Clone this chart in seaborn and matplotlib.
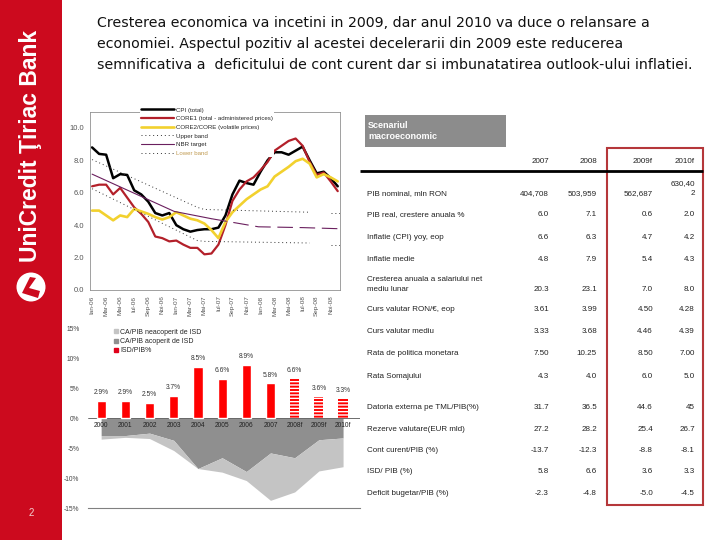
import numpy as np
import pandas as pd
import matplotlib
matplotlib.use("Agg")
import matplotlib.pyplot as plt
from matplotlib.patches import Rectangle, Circle, Polygon
from matplotlib.lines import Line2D
import seaborn as sns

# ---- inflatie lunara, Ian-06 .. Dec-08 (%)
months = list(range(36))
cpi = [8.8, 8.4, 8.35, 6.9, 7.15, 7.1, 6.15, 5.9, 5.45, 4.75, 4.6, 4.75,
       4.0, 3.75, 3.6, 3.7, 3.75, 3.75, 3.85, 4.6, 5.9, 6.75, 6.6, 6.5,
       7.3, 8.0, 8.5, 8.5, 8.35, 8.6, 8.85, 8.0, 7.2, 7.3, 6.9, 6.4]
core1 = [6.4, 6.5, 6.5, 5.9, 6.3, 5.7, 5.1, 4.7, 4.2, 3.3, 3.2, 3.0,
         3.05, 2.8, 2.6, 2.6, 2.2, 2.25, 2.8, 4.0, 5.5, 6.2, 6.7, 6.95,
         7.4, 7.9, 8.6, 8.9, 9.2, 9.35, 8.9, 7.9, 7.1, 7.25, 6.7, 6.1]
core2 = [4.9, 4.9, 4.6, 4.3, 4.6, 4.5, 5.0, 4.85, 4.7, 4.5, 4.35, 4.5,
         4.8, 4.6, 4.4, 4.3, 4.1, 3.7, 3.2, 4.2, 4.8, 5.2, 5.6, 5.9,
         6.2, 6.4, 7.0, 7.3, 7.6, 7.95, 8.1, 7.8, 6.95, 7.15, 6.95, 6.7]
upper_m1 = [0, 15, 16, 31]
upper_v1 = [8.05, 5.1, 4.97, 4.8]
upper_m2 = [34, 35.3]
upper_v2 = [4.76, 4.76]
lower_m1 = [0, 15, 16, 31]
lower_v1 = [6.25, 3.05, 3.0, 2.9]
lower_m2 = [34, 35.3]
lower_v2 = [2.8, 2.8]
target_m1 = [0, 11.7, 17]
target_v1 = [7.15, 4.85, 4.4]
target_m2 = [17, 23.7, 30, 35.3]
target_v2 = [4.4, 3.9, 3.85, 3.78]
month_labels = ["Ian-06", "Mar-06", "Mai-06", "Iul-06", "Sep-06", "Noi-06",
                "Ian-07", "Mar-07", "Mai-07", "Iul-07", "Sep-07", "Noi-07",
                "Ian-08", "Mar-08", "Mai-08", "Iul-08", "Sep-08", "Noi-08"]

# ---- ISD si cont curent (% PIB)
years = ["2000", "2001", "2002", "2003", "2004", "2005", "2006", "2007",
         "2008f", "2009f", "2010f"]
isd = [2.9, 2.9, 2.5, 3.7, 8.5, 6.6, 8.9, 5.8, 6.6, 3.6, 3.3]
ca_acoperit = [-2.9, -2.9, -2.5, -3.7, -8.4, -6.6, -8.9, -5.8, -6.6, -3.6, -3.3]
ca_total = [-3.5, -3.2, -3.4, -5.4, -8.4, -9.0, -10.4, -13.7, -12.3, -8.8, -8.1]

# ---- scenariul macroeconomic
row_labels = ["PIB nominal, mln RON", "PIB real, crestere anuala %",
              "Inflatie (CPI) yoy, eop", "Inflatie medie",
              "Cresterea anuala a salariului net\nmediu lunar",
              "Curs valutar RON/€, eop", "Curs valutar mediu",
              "Rata de politica monetara", "Rata Somajului",
              "Datoria externa pe TML/PIB(%)", "Rezerve valutare(EUR mld)",
              "Cont curent/PIB (%)", "ISD/ PIB (%)", "Deficit bugetar/PIB (%)"]
col_heads = ["2007", "2008", "2009f", "2010f"]
col_2007 = ["404,708", "6.0", "6.6", "4.8", "20.3", "3.61", "3.33", "7.50",
            "4.3", "31.7", "27.2", "-13.7", "5.8", "-2.3"]
col_2008 = ["503,959", "7.1", "6.3", "7.9", "23.1", "3.99", "3.68", "10.25",
            "4.0", "36.5", "28.2", "-12.3", "6.6", "-4.8"]
col_2009f = ["562,687", "0.6", "4.7", "5.4", "7.0", "4.50", "4.46", "8.50",
             "6.0", "44.6", "25.4", "-8.8", "3.6", "-5.0"]
col_2010f = ["630,40\n2", "2.0", "4.2", "4.3", "8.0", "4.28", "4.39", "7.00",
             "5.0", "45", "26.7", "-8.1", "3.3", "-4.5"]

title_lines = ["Cresterea economica va incetini in 2009, dar anul 2010 va duce o relansare a",
               "economiei. Aspectul pozitiv al acestei decelerarii din 2009 este reducerea",
               "semnificativa a  deficitului de cont curent dar si imbunatatirea outlook-ului inflatiei."]

sns.set_style("white")
plt.rcParams['font.family'] = ['Liberation Sans', 'DejaVu Sans']

fig = plt.figure(figsize=(7.2, 5.4), dpi=100)

# background axes in pixel coordinates
bg = fig.add_axes([0, 0, 1, 1])
bg.set_xlim(0, 720)
bg.set_ylim(540, 0)
bg.axis("off")
bg.add_patch(Rectangle((0, 0), 62, 540, color="#cc0a1e", lw=0))
bg.text(31, 146, "UniCredit Ţiriac Bank", rotation=90, color="white",
        fontsize=16.5, fontweight="bold", ha="center", va="center")
bg.add_patch(Circle((31, 287), 14.5, color="white", lw=0))
bg.add_patch(Polygon([(22, 293), (38, 298), (40, 291), (29, 288), (36, 278), (30, 277)],
                     closed=True, color="#cc0a1e", lw=0))
bg.text(31, 513, "2", color="#f3d0d0", fontsize=7, ha="center", va="center")

for i, line in enumerate(title_lines):
    bg.text(97, 23 + 21 * i, line, fontsize=10.15, color="#111111", va="center", ha="left",
            family=["DejaVu Sans"])

# table
bg.add_patch(Rectangle((365, 115), 141, 32, color="#8c8c8c", lw=0))
bg.text(368, 131, "Scenariul\nmacroeconomic", color="white", fontsize=6.5,
        fontweight="bold", va="center", ha="left", linespacing=1.3)
col_x = [549, 597, 653, 695]
for x, h in zip(col_x, col_heads):
    bg.text(x, 165, h, fontsize=5.8, ha="right", va="bottom", color="#222222")
bg.plot([360, 703], [171, 171], color="black", lw=2, solid_capstyle="butt")
bg.add_patch(Rectangle((607, 148), 96, 357, fill=False, edgecolor="#b5373a", lw=1.5))
row_y = [197, 218, 241, 263, 293, 313, 335, 357, 380, 411, 433, 454, 475, 497]
cols = [col_2007, col_2008, col_2009f, col_2010f]
for r, (lab, y) in enumerate(zip(row_labels, row_y)):
    bg.text(367, y, lab, fontsize=5.8, ha="left", va="bottom", color="#222222",
            linespacing=1.6)
    for x, c in zip(col_x, cols):
        bg.text(x, y, c[r], fontsize=5.8, ha="right", va="bottom", color="#222222",
                linespacing=1.6)

# ---- line chart
ax1 = fig.add_axes([0.125, 0.463, 0.347, 0.330])
sns.lineplot(x=months, y=cpi, ax=ax1, color="black", lw=1.8, label="CPI (total)")
sns.lineplot(x=months, y=core1, ax=ax1, color="#b3202a", lw=1.6,
             label="CORE1 (total - administered prices)")
sns.lineplot(x=months, y=core2, ax=ax1, color="#f2d12e", lw=1.9,
             label="CORE2/CORE (volatile prices)")
sns.lineplot(x=upper_m1, y=upper_v1, ax=ax1, color="#333333", lw=0.7,
             linestyle=(0, (1, 3)), label="Upper band")
sns.lineplot(x=upper_m2, y=upper_v2, ax=ax1, color="#333333", lw=0.7,
             linestyle=(0, (1, 3)))
sns.lineplot(x=target_m1, y=target_v1, ax=ax1, color="#6a1f5e", lw=0.8, label="NBR target")
sns.lineplot(x=target_m2, y=target_v2, ax=ax1, color="#6a1f5e", lw=0.8,
             linestyle=(0, (14, 6)))
sns.lineplot(x=lower_m1, y=lower_v1, ax=ax1, color="#333333", lw=0.7,
             linestyle=(0, (1, 3)), label="Lower band")
sns.lineplot(x=lower_m2, y=lower_v2, ax=ax1, color="#333333", lw=0.7,
             linestyle=(0, (1, 3)))
ax1.set_xlim(-0.3, 35.3)
ax1.set_ylim(0, 11)
ax1.set_yticks([0, 2, 4, 6, 8, 10])
ax1.set_yticklabels(["0.0", "2.0", "4.0", "6.0", "8.0", "10.0"], fontsize=5.5, color="#333333")
ax1.set_xticks(range(0, 36, 2))
ax1.set_xticklabels(month_labels, rotation=90, fontsize=4.6, color="#333333")
ax1.tick_params(axis="both", length=2, width=0.5, pad=2, colors="#555555")
ax1.set_xlabel("")
ax1.set_ylabel("")
for s in ax1.spines.values():
    s.set_color("#909090")
    s.set_linewidth(0.6)
leg = ax1.legend(loc="upper left", bbox_to_anchor=(0.2, 1.03), fontsize=4.4,
                 frameon=True, facecolor="white", edgecolor="none", framealpha=1,
                 handlelength=5.5, handletextpad=0.2, labelspacing=0.55,
                 borderpad=0.15, borderaxespad=0)
leg.get_texts()[5].set_color("#c09a50")

# ---- ISD / cont curent chart
ax2 = fig.add_axes([0.122, 0.059, 0.378, 0.35])
xpos = np.arange(len(years))
ax2.fill_between(xpos, 0, ca_acoperit, color="#8f8f8f", lw=0, zorder=1)
ax2.fill_between(xpos, ca_acoperit, ca_total, color="#c4c4c4", lw=0, zorder=1)
sns.barplot(x=years, y=isd, ax=ax2, color="#ff0000", width=0.38, saturation=1,
            native_scale=False, zorder=3)
for i, p in enumerate(ax2.patches):
    if i >= 8:
        p.set_hatch("-----")
        p.set_edgecolor("white")
        p.set_linewidth(0)
for i, v in enumerate(isd):
    ax2.text(i, v + 0.8, f"{v:.1f}%", fontsize=4.8, ha="center", va="bottom", color="#333333")
    ax2.text(i, -0.6, years[i], fontsize=4.8, ha="center", va="top", color="#222222", zorder=4)
ax2.axhline(0, color="#555555", lw=0.6, zorder=2)
ax2.set_xlim(-0.55, 10.7)
ax2.set_ylim(-15, 16.5)
ax2.set_yticks([-15, -10, -5, 0, 5, 10, 15])
ax2.set_yticklabels(["-15%", "-10%", "-5%", "0%", "5%", "10%", "15%"], fontsize=4.8,
                    color="#444444")
ax2.set_xticks([])
ax2.tick_params(axis="y", length=0, pad=6)
ax2.set_xlabel("")
ax2.set_ylabel("")
for side in ["top", "right", "left"]:
    ax2.spines[side].set_visible(False)
ax2.spines["bottom"].set_color("#808080")
ax2.spines["bottom"].set_linewidth(0.8)
handles = [Line2D([], [], marker="s", ls="", color="#c4c4c4", markersize=3.5),
           Line2D([], [], marker="s", ls="", color="#8f8f8f", markersize=3.5),
           Line2D([], [], marker="s", ls="", color="#e0001a", markersize=3.5)]
ax2.legend(handles, ["CA/PIB neacoperit de ISD", "CA/PIB acoperit de ISD", "ISD/PIB%"],
           loc="upper left", bbox_to_anchor=(0.08, 0.965), fontsize=5, frameon=False,
           handletextpad=0.1, labelspacing=0.35, borderaxespad=0, handlelength=1)

fig.savefig("out.png", dpi=100)
plt.close(fig)
